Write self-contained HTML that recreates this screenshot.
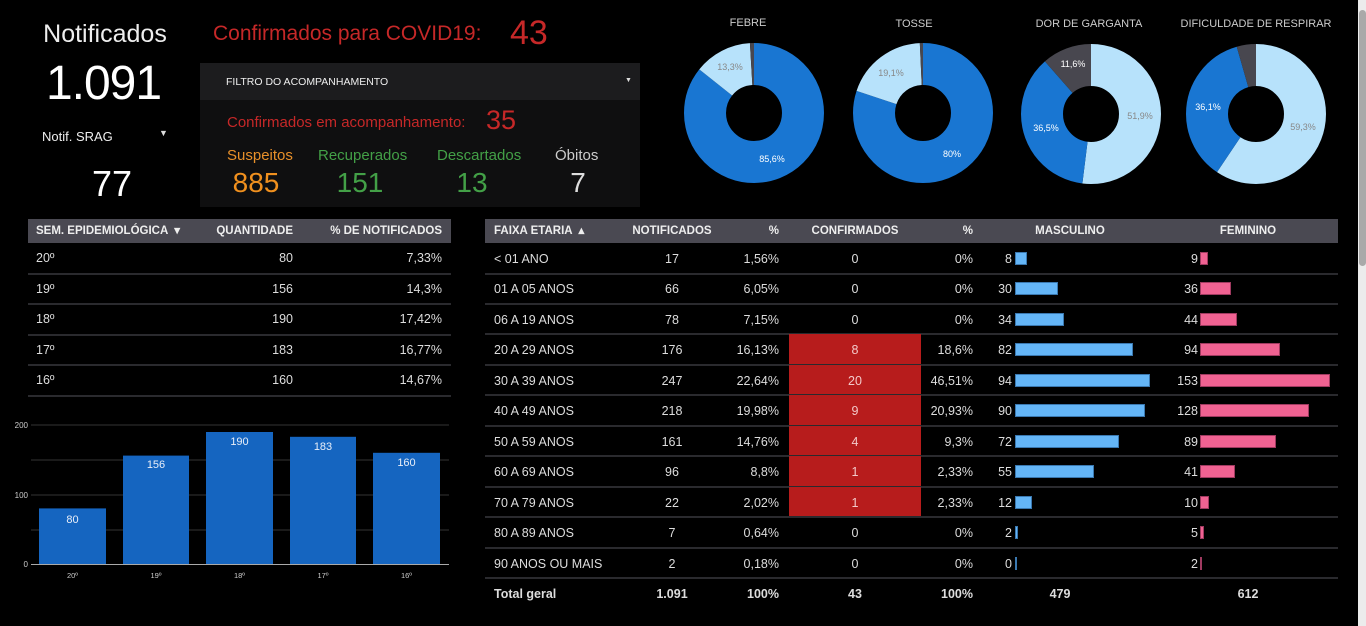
<!DOCTYPE html>
<html><head><meta charset="utf-8"><style>
*{margin:0;padding:0;box-sizing:border-box}
body{width:1366px;height:626px;background:#000;overflow:hidden;position:relative;font-family:"Liberation Sans",sans-serif;color:#ddd}
.a{position:absolute;white-space:nowrap}
.hdr{position:absolute;background:#4a4952;color:#eee;font-weight:bold;font-size:12px}
.ln{position:absolute;height:2px;background:#2a2a2e}
.t{position:absolute;font-size:12.5px;color:#ddd;white-space:nowrap;line-height:14px}
.r{text-align:right}.c{text-align:center}
</style></head><body>
<!-- top left -->
<div class="a" style="left:0;width:210px;top:20px;font-size:25px;color:#eee;text-align:center">Notificados</div>
<div class="a" style="left:0;width:207px;top:56px;font-size:48px;color:#fff;text-align:center;letter-spacing:-1px">1.091</div>
<div class="a" style="left:42px;top:129px;font-size:13px;color:#eee">Notif. SRAG</div>
<div class="a" style="left:159px;top:128px;font-size:9px;color:#ddd">▼</div>
<div class="a" style="left:80px;width:64px;top:163px;font-size:36px;color:#fff;text-align:center">77</div>

<div class="a" style="left:213px;top:22px;font-size:21px;color:#c62828">Confirmados para COVID19:</div>
<div class="a" style="left:510px;top:14px;font-size:34px;color:#c62828">43</div>

<div class="a" style="left:200px;top:63px;width:440px;height:144px;background:#0f0f10"></div>
<div class="a" style="left:200px;top:63px;width:440px;height:37px;background:#1c1c1e"></div>
<div class="a" style="left:226px;top:76px;font-size:10.5px;color:#eee">FILTRO DO ACOMPANHAMENTO</div>
<div class="a" style="left:625px;top:77px;font-size:7px;color:#ddd">▼</div>
<div class="a" style="left:227px;top:114px;font-size:15px;color:#c62828">Confirmados em acompanhamento:</div>
<div class="a" style="left:486px;top:105px;font-size:27px;color:#c62828">35</div>
<div class="a" style="left:227px;top:147px;font-size:15px;color:#e8902a">Suspeitos</div>
<div class="a" style="left:318px;top:147px;font-size:15px;color:#43a047">Recuperados</div>
<div class="a" style="left:437px;top:147px;font-size:15px;color:#43a047">Descartados</div>
<div class="a" style="left:555px;top:147px;font-size:15px;color:#ccc">Óbitos</div>
<div class="a" style="left:218px;width:76px;top:167px;font-size:28px;color:#f0901e;text-align:center">885</div>
<div class="a" style="left:322px;width:76px;top:167px;font-size:28px;color:#43a047;text-align:center">151</div>
<div class="a" style="left:434px;width:76px;top:167px;font-size:28px;color:#43a047;text-align:center">13</div>
<div class="a" style="left:540px;width:76px;top:167px;font-size:28px;color:#ddd;text-align:center">7</div>

<!-- donuts -->
<svg class="a" style="left:0;top:0" width="1366" height="200">
<g font-family="Liberation Sans" font-size="11" fill="#ccc" text-anchor="middle">
<text x="748" y="26">FEBRE</text><text x="914" y="27">TOSSE</text><text x="1089" y="27">DOR DE GARGANTA</text><text x="1256" y="27">DIFICULDADE  DE RESPIRAR</text>
</g>
<g fill="none" stroke-width="42">
<g transform="translate(754,113) rotate(-90)">
<circle r="49" stroke="#1976d2" stroke-dasharray="263.5 400"/>
<circle r="49" stroke="#b7e2fb" stroke-dasharray="40.95 400" stroke-dashoffset="-263.5"/>
<circle r="49" stroke="#48474f" stroke-dasharray="3.4 400" stroke-dashoffset="-304.5"/>
</g>
<g transform="translate(923,113) rotate(-90)">
<circle r="49" stroke="#1976d2" stroke-dasharray="246.3 400"/>
<circle r="49" stroke="#b7e2fb" stroke-dasharray="58.8 400" stroke-dashoffset="-246.3"/>
<circle r="49" stroke="#48474f" stroke-dasharray="2.8 400" stroke-dashoffset="-305.1"/>
</g>
<g transform="translate(1091,114) rotate(-90)">
<circle r="49" stroke="#b7e2fb" stroke-dasharray="159.8 400"/>
<circle r="49" stroke="#1976d2" stroke-dasharray="112.4 400" stroke-dashoffset="-159.8"/>
<circle r="49" stroke="#48474f" stroke-dasharray="35.7 400" stroke-dashoffset="-272.2"/>
</g>
<g transform="translate(1256,114) rotate(-90)">
<circle r="49" stroke="#b7e2fb" stroke-dasharray="182.6 400"/>
<circle r="49" stroke="#1976d2" stroke-dasharray="111.1 400" stroke-dashoffset="-182.6"/>
<circle r="49" stroke="#48474f" stroke-dasharray="14.2 400" stroke-dashoffset="-293.7"/>
</g>
</g>
<g font-family="Liberation Sans" font-size="9" text-anchor="middle">
<text x="772" y="162" fill="#fff">85,6%</text><text x="730" y="70" fill="#888">13,3%</text>
<text x="952" y="157" fill="#fff">80%</text><text x="891" y="76" fill="#888">19,1%</text>
<text x="1140" y="119" fill="#888">51,9%</text><text x="1046" y="131" fill="#fff">36,5%</text><text x="1073" y="67" fill="#fff">11,6%</text>
<text x="1208" y="110" fill="#fff">36,1%</text><text x="1303" y="130" fill="#888">59,3%</text>
</g>
</svg>

<!-- left table -->
<div class="hdr" style="left:28px;top:219px;width:423px;height:24px"></div>
<div class="t" style="left:36px;top:224px;font-weight:bold;color:#eee;font-size:11.5px">SEM. EPIDEMIOLÓGICA &nbsp;▾</div>
<div class="t r" style="left:193px;width:100px;top:224px;font-weight:bold;color:#eee;font-size:11.5px">QUANTIDADE</div>
<div class="t r" style="left:292px;width:150px;top:224px;font-weight:bold;color:#eee;font-size:11.5px">% DE NOTIFICADOS</div>
<div id="lt"></div>

<!-- bar chart -->
<svg class="a" style="left:0;top:410px" width="480" height="190">
<g stroke="#333" stroke-width="1">
<line x1="31" x2="449" y1="15" y2="15"/><line x1="31" x2="449" y1="50" y2="50"/><line x1="31" x2="449" y1="85" y2="85"/><line x1="31" x2="449" y1="120" y2="120"/>
</g>
<g font-family="Liberation Sans" font-size="8" fill="#ccc" text-anchor="end">
<text x="28" y="18">200</text><text x="28" y="88">100</text><text x="28" y="157">0</text>
</g>
<g fill="#1565c0">
<rect x="39" y="98.4" width="67" height="55.6"/>
<rect x="123" y="45.6" width="66" height="108.4"/>
<rect x="206" y="22" width="67" height="132"/>
<rect x="290" y="26.8" width="66" height="127.2"/>
<rect x="373" y="42.8" width="67" height="111.2"/>
</g>
<line x1="31" x2="449" y1="154.5" y2="154.5" stroke="#aaa" stroke-width="1"/>
<g font-family="Liberation Sans" font-size="11" fill="#e8eef8" text-anchor="middle">
<text x="72.5" y="113">80</text><text x="156" y="58">156</text><text x="239.5" y="35">190</text><text x="323" y="40">183</text><text x="406.5" y="56">160</text>
</g>
<g font-family="Liberation Sans" font-size="7.5" fill="#ccc" text-anchor="middle">
<text x="72.5" y="168">20º</text><text x="156" y="168">19º</text><text x="239.5" y="168">18º</text><text x="323" y="168">17º</text><text x="406.5" y="168">16º</text>
</g>
</svg>

<!-- right table -->
<div class="hdr" style="left:485px;top:219px;width:853px;height:24px"></div>
<div class="t" style="left:494px;top:224px;font-weight:bold;color:#eee;font-size:11.5px">FAIXA ETARIA &nbsp;▴</div>
<div class="t c" style="left:622px;width:100px;top:224px;font-weight:bold;color:#eee;font-size:11.5px">NOTIFICADOS</div>
<div class="t r" style="left:720px;width:59px;top:224px;font-weight:bold;color:#eee;font-size:11.5px">%</div>
<div class="t c" style="left:795px;width:120px;top:224px;font-weight:bold;color:#eee;font-size:11.5px">CONFIRMADOS</div>
<div class="t r" style="left:920px;width:53px;top:224px;font-weight:bold;color:#eee;font-size:11.5px">%</div>
<div class="t c" style="left:1010px;width:120px;top:224px;font-weight:bold;color:#eee;font-size:11.5px">MASCULINO</div>
<div class="t c" style="left:1188px;width:120px;top:224px;font-weight:bold;color:#eee;font-size:11.5px">FEMININO</div>
<div id="rt"></div>

<!-- scrollbar -->
<div class="a" style="left:1358px;top:0;width:8px;height:626px;background:#ececec"></div>
<div class="a" style="left:1359px;top:10px;width:7px;height:256px;background:#a9a9a9;border-radius:4px"></div>

<script>
var lt=[["20º","80","7,33%"],["19º","156","14,3%"],["18º","190","17,42%"],["17º","183","16,77%"],["16º","160","14,67%"]];
var h="";
lt.forEach(function(r,i){var y=243+i*30.5;
h+='<div class="t" style="left:36px;top:'+(y+8)+'px">'+r[0]+'</div>';
h+='<div class="t r" style="left:193px;width:100px;top:'+(y+8)+'px">'+r[1]+'</div>';
h+='<div class="t r" style="left:292px;width:150px;top:'+(y+8)+'px">'+r[2]+'</div>';
h+='<div class="ln" style="left:28px;width:423px;top:'+(y+29.5)+'px"></div>';});
document.getElementById("lt").outerHTML=h;
var rt=[["< 01 ANO",17,"1,56%",0,"0%",8,9],["01 A 05 ANOS",66,"6,05%",0,"0%",30,36],["06 A 19 ANOS",78,"7,15%",0,"0%",34,44],["20 A 29 ANOS",176,"16,13%",8,"18,6%",82,94],["30 A 39 ANOS",247,"22,64%",20,"46,51%",94,153],["40 A 49 ANOS",218,"19,98%",9,"20,93%",90,128],["50 A 59 ANOS",161,"14,76%",4,"9,3%",72,89],["60 A 69 ANOS",96,"8,8%",1,"2,33%",55,41],["70 A 79 ANOS",22,"2,02%",1,"2,33%",12,10],["80 A 89 ANOS",7,"0,64%",0,"0%",2,5],["90 ANOS OU MAIS",2,"0,18%",0,"0%",0,2]];
h="";
rt.forEach(function(r,i){var y=243+i*30.45;
if(r[3]>0)h+='<div class="a" style="left:789px;width:132px;top:'+y+'px;height:31px;background:#b71c1c"></div>';
var cc=r[3]>0?"#f3c9c9":"#ddd";
h+='<div class="t" style="left:494px;top:'+(y+9)+'px">'+r[0]+'</div>';
h+='<div class="t c" style="left:622px;width:100px;top:'+(y+9)+'px">'+r[1]+'</div>';
h+='<div class="t r" style="left:700px;width:79px;top:'+(y+9)+'px">'+r[2]+'</div>';
h+='<div class="t c" style="left:795px;width:120px;top:'+(y+9)+'px;color:'+cc+'">'+r[3]+'</div>';
h+='<div class="t r" style="left:910px;width:63px;top:'+(y+9)+'px">'+r[4]+'</div>';
h+='<div class="t r" style="left:970px;width:42px;top:'+(y+9)+'px">'+r[5]+'</div>';
h+='<div class="a" style="left:1015px;top:'+(y+9)+'px;height:13px;width:'+Math.max(1.5,r[5]*1.44)+'px;background:#64b5f6;border:1px solid #3a78b0"></div>';
h+='<div class="t r" style="left:1150px;width:48px;top:'+(y+9)+'px">'+r[6]+'</div>';
h+='<div class="a" style="left:1200px;top:'+(y+9)+'px;height:13px;width:'+Math.max(1.5,r[6]*0.85)+'px;background:#f06292;border:1px solid #a03a60"></div>';
h+='<div class="ln" style="left:485px;width:853px;top:'+(y+29.5)+'px"></div>';});
var y=243+11*30.45;
h+='<div class="t" style="left:494px;top:'+(y+9)+'px;font-weight:bold">Total geral</div>';
h+='<div class="t c" style="left:622px;width:100px;top:'+(y+9)+'px;font-weight:bold">1.091</div>';
h+='<div class="t r" style="left:700px;width:79px;top:'+(y+9)+'px;font-weight:bold">100%</div>';
h+='<div class="t c" style="left:795px;width:120px;top:'+(y+9)+'px;font-weight:bold">43</div>';
h+='<div class="t r" style="left:910px;width:63px;top:'+(y+9)+'px;font-weight:bold">100%</div>';
h+='<div class="t c" style="left:1010px;width:100px;top:'+(y+9)+'px;font-weight:bold">479</div>';
h+='<div class="t c" style="left:1198px;width:100px;top:'+(y+9)+'px;font-weight:bold">612</div>';
document.getElementById("rt").outerHTML=h;
</script>
</body></html>
